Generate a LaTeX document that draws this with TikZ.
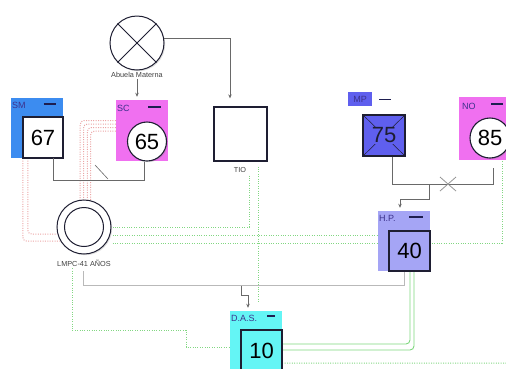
\documentclass[tikz,border=0pt]{standalone}
\usepackage{fontspec}
\setmainfont{Liberation Sans}
\usetikzlibrary{calc,shadows,arrows.meta}
\definecolor{smblue}{RGB}{60,140,240}
\definecolor{magbox}{RGB}{240,112,240}
\definecolor{hpbox}{RGB}{165,165,245}
\definecolor{mpbox}{RGB}{95,95,238}
\definecolor{dasbox}{RGB}{100,245,245}
\definecolor{boxdark}{RGB}{30,30,50}
\definecolor{hdrtext}{RGB}{60,50,140}
\definecolor{hdrdash}{RGB}{30,30,80}
\definecolor{conngray}{RGB}{105,105,105}
\definecolor{lightgray}{RGB}{185,185,185}
\definecolor{gdotc}{RGB}{130,215,130}
\definecolor{rdotc}{RGB}{235,165,165}
\definecolor{gsolidc}{RGB}{125,215,125}
\pgfdeclarelayer{background}
\pgfsetlayers{background,main}
\begin{document}
\begin{tikzpicture}[x=1pt,y=-1pt,
  shad/.style={drop shadow={opacity=0.25,shadow xshift=1.2pt,shadow yshift=-1.2pt}},
  pbox/.style={draw=none,inner sep=0pt,minimum width=52pt,minimum height=61pt},
  ibox/.style={draw=boxdark,line width=1.3pt,inner sep=0pt,minimum width=40pt,minimum height=40pt,
    font=\fontsize{22}{22}\selectfont,shad},
  icirc/.style={circle,draw=boxdark,line width=1.1pt,fill=white,inner sep=0pt,minimum size=39pt,
    font=\fontsize{22}{22}\selectfont,shad},
  hdr/.style={font=\fontsize{9}{9}\selectfont,text=hdrtext,inner sep=0pt,anchor=west},
  hdash/.style={draw=hdrdash,line width=1.5pt},
  small/.style={font=\fontsize{7.3}{8}\selectfont,text=black!75,inner sep=1pt},
  conn/.style={draw=conngray,line width=0.9pt},
  lconn/.style={draw=lightgray,line width=0.8pt},
  arr/.style={conn,-{Stealth[length=4pt,width=3.5pt]}},
  gdot/.style={draw=gdotc,line width=1pt,dash pattern=on 1pt off 1.4pt},
  rdot/.style={draw=rdotc,line width=1pt,dash pattern=on 1pt off 1.4pt,rounded corners=4pt},
  gsolid/.style={draw=gsolidc,line width=0.9pt,rounded corners=4pt}
]
\useasboundingbox (0,0) rectangle (506,368);
\clip (0,0) rectangle (506,368);

% Abuela Materna
\node[circle,draw=boxdark,line width=1pt,fill=white,minimum size=54pt,inner sep=0pt,shad] (AB) at (137,43) {};
\draw[boxdark,line width=0.9pt] (AB.45) -- (AB.225) (AB.135) -- (AB.315);
\node[small] (ABl) at (137,75) {Abuela Materna};

% SM
\node[pbox,fill=smblue,minimum height=60pt] (SM) at (37,128) {};
\node[ibox,fill=white,minimum height=41pt] (SMi) at (43,137.5) {67};
\node[hdr] (SMl) at (12,105) {SM};
\draw[hdash] (43.5,104) -- (56,104);

% SC
\node[pbox,fill=magbox] (SC) at (142,130.5) {};
\node[icirc] (SCc) at (147,141.5) {65};
\node[hdr] (SCl) at (117,108) {SC};
\draw[hdash] (148,107) -- (161,107);

% TIO
\node[draw=boxdark,line width=1.3pt,fill=white,minimum width=53pt,minimum height=54pt,inner sep=0pt,shad] (TIO) at (240.5,134) {};
\node[small] (TIOl) at (240,170) {TIO};

% LMPC
\node[circle,draw=boxdark,line width=1pt,fill=white,minimum size=54pt,inner sep=0pt,shad] (LM) at (84,227) {};
\node[circle,draw=boxdark,line width=1pt,minimum size=39pt,inner sep=0pt] (LMin) at (84,227) {};
\node[small] (LMl) at (84,263) {LMPC-41 AÑOS};

% MP
\node[draw=boxdark,line width=1.3pt,fill=mpbox,minimum width=42pt,minimum height=41pt,inner sep=0pt,
  font=\fontsize{22}{22}\selectfont,text=boxdark,shad] (MP) at (384,135.5) {};
\draw[boxdark,line width=0.5pt] (MP.north west) -- (MP.south east) (MP.north east) -- (MP.south west);
\node[font=\fontsize{22}{22}\selectfont,text=boxdark,fill=mpbox,inner sep=1pt] (MPn) at (384,135.5) {75};
\node[hdr,fill=mpbox,inner sep=1.5pt,minimum height=14pt,minimum width=24pt,anchor=center] (MPl) at (360,99) {MP};
\draw[hdash] (379,99.5) -- (391,99.5);

% NO
\node[pbox,fill=magbox,minimum height=63pt] (NO) at (485,128.5) {};
\node[icirc,minimum size=40pt] (NOc) at (490,138) {85};
\node[hdr] (NOl) at (462,106) {NO};
\draw[hdash] (491,104) -- (503,104);

% H.P.
\node[pbox,fill=hpbox,minimum height=60pt] (HP) at (404,241) {};
\node[ibox,fill=hpbox,minimum width=41pt] (HPi) at (409.5,251) {40};
\node[hdr] (HPl) at (379,218) {H.P.};
\draw[hdash] (409,217) -- (423,217);

% D.A.S.
\node[pbox,fill=dasbox] (DAS) at (256,341.5) {};
\node[ibox,fill=dasbox,minimum width=41pt,minimum height=41pt] (DASi) at (261.5,350.5) {10};
\node[hdr] (DASl) at (231,318) {D.A.S.};
\draw[hdash] (267,316) -- (275,316);

\coordinate (edgeR) at (506,363);

\begin{pgfonlayer}{background}
% red dotted emotional lines
\draw[rdot] ($(SM.south west)+(12,0)$) |- (LM.211);
\draw[rdot] ($(SM.south west)+(17,0)$) |- (LM.195);
\draw[rdot] ($(SC.west)+(0,-10)$) -| (LM.98.5);
\draw[rdot] ($(SC.west)+(0,-6.5)$) -| (LM.91);
\draw[rdot] ($(SC.west)+(0,-3)$) -| (LM.83.6);
\draw[rdot] ($(SC.west)+(0,0.5)$) -| (LM.76);

% green dotted lines
\draw[gdot] ($(TIO.south)+(8.5,14)$) |- ($(LM.east)+(1,0)$);
\draw[gdot] ($(TIO.south)+(17.5,5)$) -- ($(DAS.north)+(2,-8)$);
\coordinate (g2) at ($(LM.east)+(1,8)$);
\coordinate (g3) at ($(LM.east)+(1,16)$);
\draw[gdot] (g2) -- (g2 -| HP.west);
\draw[gdot] (g3) -| ($(NO.south)+(17,0)$);
\draw[gdot] ($(LMl.south)+(-12,1)$) -- ++(0,62) -- ++(114,0) |- ($(DAS.west)+(0,5.5)$);
\draw[gdot] ($(DAS.south east)+(0,-9)$) -- (edgeR);

% green solid
\draw[gsolid] ($(HP.south)+(6,1)$) |- ($(DAS.east)+(1,2.5)$);
\draw[gsolid] ($(HP.south)+(10,1)$) |- ($(DAS.east)+(1,8.5)$);

% LMPC - H.P.
\draw[lconn] ($(LMl.south)+(-1,4)$) -- ++(0,14) -| (HP.south);
\end{pgfonlayer}

% family connectors
\draw[arr] (ABl.south) -- ($(SC.north)+(-5,-3)$);
\draw[arr] (AB.10) -| ($(TIO.north)+(-10.5,-8)$);
\draw[conn] ($(SM.south)+(16,0)$) -- ++(0,22) -| ($(SCc.south)+(-3,0)$);
\draw[conn,line width=0.6pt] (95,165) -- (108,179);
\draw[conn] ($(MP.south)+(8,0)$) -- ++(0,28) -| ($(NO.south)+(8,8)$);
\draw[draw=lightgray!80!black,line width=0.8pt] (440,177) -- (456,191) (440,191) -- (456,177);
\coordinate (c2) at (429,184);
\draw[arr] (c2) -- ++(0,15) -| ($(HP.north)+(-4,-3)$);
\coordinate (c1) at (241,285.5);
\draw[arr] (c1) -- ++(0,10) -- ++(7,0) -- ($(DAS.north)+(-8,-3)$);
\end{tikzpicture}
\end{document}
